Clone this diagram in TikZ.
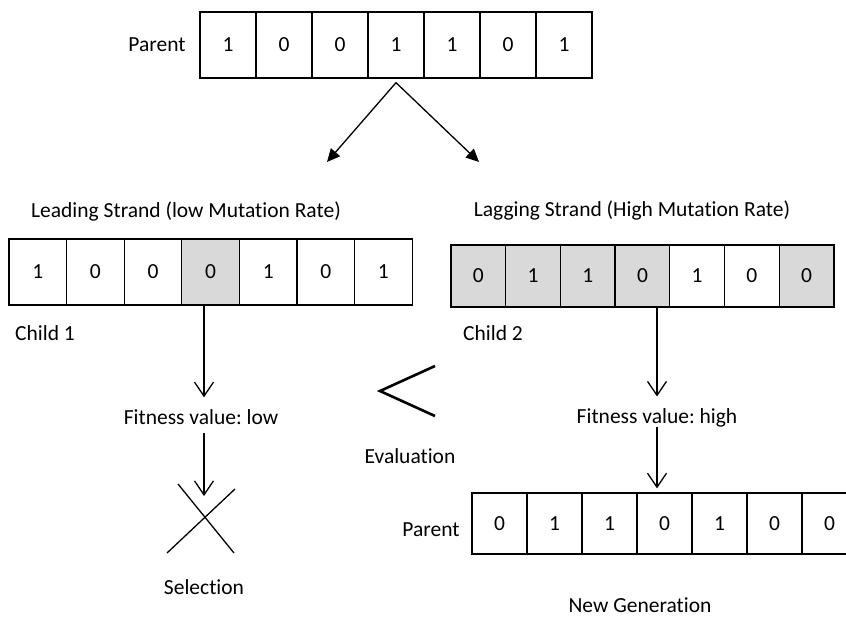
\documentclass[tikz,border=0pt]{standalone}
\usepackage{fontspec}
\setmainfont{Carlito}[Ligatures=NoCommon]
\usetikzlibrary{arrows.meta}
\definecolor{cellgray}{HTML}{D9D9D9}
\frenchspacing
\begin{document}
\begin{tikzpicture}[x=1pt,y=-1pt,
  txt/.style={font=\fontsize{21.5}{25}\selectfont, inner sep=0pt},
  cell/.style={draw, line width=1.3pt, font=\fontsize{21.5}{25}\selectfont, inner sep=0pt, anchor=center},
  shaded/.style={fill=cellgray},
  varr/.style={line width=1.3pt, -{Straight Barb[length=14pt,width=19pt,line width=1.3pt]}},
  darr/.style={line width=1.3pt, -{Triangle[length=13pt,width=12pt]}},
  crossline/.style={line width=1.3pt}]
\useasboundingbox (0,0) rectangle (846,619);
% top parent
\foreach \v [count=\i] in {1,0,0,1,1,0,1}
  \node[cell, minimum width=56pt, minimum height=66pt] (p\i) at ({200+56*(\i-0.5)},45) {\v};
\node[txt] (plab) at (157,45) {Parent};
% child 1
\foreach \v/\s [count=\i] in {1/,0/,0/,0/shaded,1/,0/,1/}
  \node[cell, minimum width=57.6pt, minimum height=66pt, \s] (c\i) at ({9+57.6*(\i-0.5)},272) {\v};
% child 2
\foreach \v/\s [count=\i] in {0/shaded,1/shaded,1/shaded,0/shaded,1/,0/,0/shaded}
  \node[cell, minimum width=54.7pt, minimum height=62pt, \s] (d\i) at ({451+54.7*(\i-0.5)},276) {\v};
% new generation
\foreach \v [count=\i] in {0,1,1,0,1,0,0}
  \node[cell, minimum width=55pt, minimum height=61pt] (n\i) at ({472+55*(\i-0.5)},523.5) {\v};
% labels
\node[txt] (lead) at (186,211) {Leading Strand (low Mutation Rate)};
\node[txt] (lag) at (632,210) {Lagging Strand (High Mutation Rate)};
\node[txt] (ch1) at (45,333) {Child 1};
\node[txt] (ch2) at (493,333) {Child 2};
\node[txt] (fl) at (201,417) {Fitness value: low};
\node[txt] (fh) at (657,418) {Fitness value: high};
\node[txt] (ev) at (410,456) {Evaluation};
\node[txt] (sel) at (204,587) {Selection};
\node[txt] (plab2) at (431,530) {Parent};
\node[txt] (ng) at (640,605) {New Generation};
% split arrows
\coordinate (split) at ([yshift=-4pt]p4.south);
\coordinate (tl) at (327,162);
\coordinate (tr) at (479,162);
\draw[darr] (split) -- (tl);
\draw[darr] (split) -- (tr);
% vertical arrows
\draw[varr] ([xshift=3pt]fl.north |- c4.south) -- ([xshift=3pt,yshift=12pt]fl.north);
\draw[varr] ([xshift=3pt,yshift=-16pt]fl.center) -- ([xshift=3pt,yshift=-79pt]fl.center);
\draw[varr] (fh.north |- d4.south) -- ([yshift=12pt]fh.north);
\draw[varr] ([yshift=-9pt]fh.center) -- ([yshift=4pt]fh.center |- n4.north);
% selection cross
\coordinate (x1a) at (178,484); \coordinate (x1b) at (234,553);
\coordinate (x2a) at (167,553); \coordinate (x2b) at (235,489);
\draw[crossline] (x1a) -- (x1b);
\draw[crossline] (x2a) -- (x2b);
% evaluation "<"
\coordinate (ea) at (435,366); \coordinate (eb) at (380,391); \coordinate (ec) at (435,416);
\draw[line width=2.6pt, line join=miter] (ea) -- (eb) -- (ec);
\end{tikzpicture}
\end{document}
